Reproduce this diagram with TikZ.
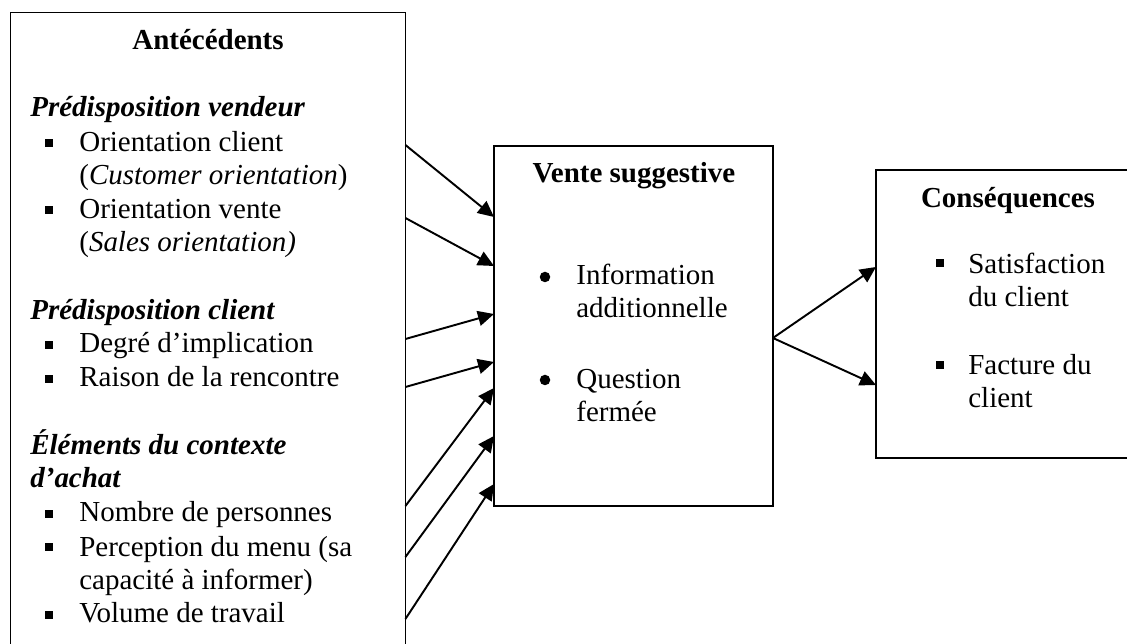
\documentclass[tikz,border=0pt]{standalone}
\usepackage{fontspec}
\setmainfont{Liberation Serif}
\usetikzlibrary{arrows.meta}

\newcommand{\diafont}{\fontsize{16.5}{19}\selectfont}

\tikzset{
    box/.style={draw, line width=1pt, inner sep=0pt, outer sep=0pt, anchor=north west},
    ttl/.style={anchor=base, inner sep=0pt, font=\diafont\bfseries},
    txt/.style={anchor=base west, inner sep=0pt, align=left, font=\diafont},
    sqb/.style={fill, rectangle, minimum size=0.17cm, inner sep=0pt},
    dotb/.style={fill, circle, minimum size=0.21cm, inner sep=0pt},
    arr/.style={line width=1.1pt, -{Triangle[length=3.2mm,width=3mm]}}
}

\begin{document}
\begin{tikzpicture}[x=0.02cm, y=-0.02cm]
        \useasboundingbox (0,0) rectangle (1127,644);
        \clip (0,0) rectangle (1127,644);

        % the three boxes
        \node[box, minimum width=7.9cm, minimum height=13cm] (ant) at (10.5,12.5) {};
        \node[box, minimum width=5.58cm, minimum height=7.2cm] (vente) at (494,146) {};
        \node[box, minimum width=5.4cm, minimum height=5.76cm] (cons) at (876,170) {};

        % Antecedents (multi-line nodes sit on their last baseline)
        \node[ttl] (antT) at (208,50) {Antécédents};
        \node[txt] (h1) at (30,117) {\textbf{\textit{Prédisposition vendeur}}};
        \node[sqb] (b1) at (49,143) {};
        \node[txt] (i1) at (79,185) {Orientation client\\(\textit{Customer orientation})};
        \node[sqb] (b2) at (49,210) {};
        \node[txt] (i2) at (79,252) {Orientation vente\\(\textit{Sales orientation)}};

        \node[txt] (h2) at (30,320) {\textbf{\textit{Prédisposition client}}};
        \node[sqb] (b3) at (49,345) {};
        \node[txt] (i3) at (79,353) {Degré d’implication};
        \node[sqb] (b4) at (49,379) {};
        \node[txt] (i4) at (79,387) {Raison de la rencontre};

        \node[txt] (h3) at (30,488) {\textbf{\textit{Éléments du contexte}}\\\textbf{\textit{d’achat}}};
        \node[sqb] (b5) at (49,514) {};
        \node[txt] (i5) at (79,522) {Nombre de personnes};
        \node[sqb] (b6) at (49,547) {};
        \node[txt] (i6) at (79,590) {Perception du menu (sa\\capacité à informer)};
        \node[sqb] (b7) at (49,615) {};
        \node[txt] (i7) at (79,623) {Volume de travail};

        % Vente suggestive
        \node[ttl] (venteT) at (634,183) {Vente suggestive};
        \node[dotb] (d1) at (545,277) {};
        \node[txt] (v1) at (576,318) {Information\\additionnelle};
        \node[dotb] (d2) at (545,380) {};
        \node[txt] (v2) at (576,422) {Question\\fermée};

        % Consequences
        \node[ttl] (consT) at (1008,208) {Conséquences};
        \node[sqb] (c1b) at (940,263) {};
        \node[txt] (c1) at (968,307) {Satisfaction\\du client};
        \node[sqb] (c2b) at (940,365) {};
        \node[txt] (c2) at (968,408) {Facture du\\client};

        % arrows
        \draw[arr] (ant.east |- 0,145) -- (vente.west |- 0,217);
        \draw[arr] (ant.east |- 0,218) -- (vente.west |- 0,266);
        \draw[arr] (ant.east |- 0,339) -- (vente.west |- 0,314);
        \draw[arr] (ant.east |- 0,387) -- (vente.west |- 0,362);
        \draw[arr] (ant.east |- 0,506) -- (vente.west |- 0,388);
        \draw[arr] (ant.east |- 0,557) -- (vente.west |- 0,436);
        \draw[arr] (ant.east |- 0,619) -- (vente.west |- 0,484);

        \draw[arr] (vente.east |- 0,338) -- (cons.west |- 0,267);
        \draw[arr] (vente.east |- 0,338) -- (cons.west |- 0,385);
\end{tikzpicture}
\end{document}
